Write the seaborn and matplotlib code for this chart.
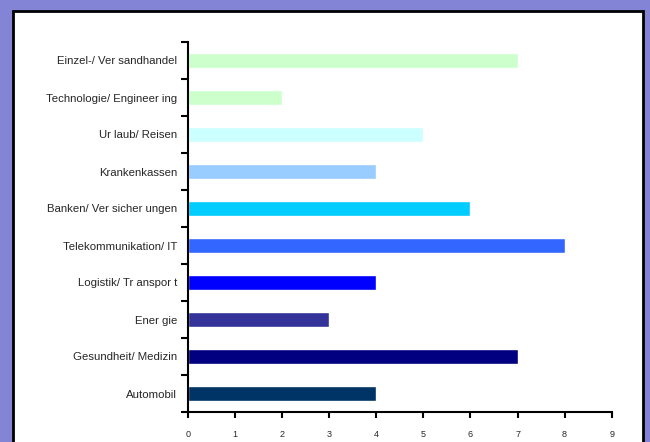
import matplotlib
matplotlib.use("Agg")
import matplotlib.pyplot as plt
import seaborn as sns
import pandas as pd
import numpy as np
from matplotlib.patches import Rectangle

categories = ["Einzel-/Versandhandel", "Technologie/Engineering", "Urlaub/Reisen",
              "Krankenkassen", "Banken/Versicherungen", "Telekommunikation/IT",
              "Logistik/Transport", "Energie", "Gesundheit/Medizin", "Automobil"]
labels = ["Einzel-/ Ver sandhandel", "Technologie/ Engineer ing", "Ur laub/ Reisen",
          "Krankenkassen", "Banken/ Ver sicher ungen", "Telekommunikation/ IT",
          "Logistik/ Tr anspor t", "Ener gie", "Gesundheit/ Medizin", "Automobil"]
values = [7, 2, 5, 4, 6, 8, 4, 3, 7, 4]
colors = ["#CCFFCC", "#CCFFCC", "#CCFFFF", "#99CCFF", "#00CCFF",
          "#3366FF", "#0000FF", "#333399", "#000080", "#003366"]
xticks = list(range(0, 10))

sns.set_theme(style="white")
plt.rcParams['font.family'] = ['Liberation Sans', 'DejaVu Sans']

fig = plt.figure(figsize=(6.5, 4.42), dpi=100)
fig.patch.set_facecolor("#8484D6")
fig.patches.append(Rectangle((13/650, -0.05), (643-13)/650, 1.05 - 11/442,
                             transform=fig.transFigure, facecolor="white",
                             edgecolor="black", linewidth=2, zorder=-10))

ax = fig.add_axes([188/650, 1 - 412/442, (611.7 - 188)/650, (412 - 42)/442])
ax.set_facecolor("none")
ax.patch.set_visible(False)

df = pd.DataFrame({"cat": categories, "val": values})
sns.barplot(data=df, x="val", y="cat", hue="cat", palette=colors, legend=False,
            width=0.4, orient="h", ax=ax, saturation=1)

ax.set_xlim(0, 9)
ax.set_ylim(9.5, -0.5)
ax.set_xticks(xticks)
ax.set_xticklabels([str(t) for t in xticks], fontsize=6.5)
ax.set_yticks(range(len(categories)))
ax.set_yticklabels(labels, fontsize=8.2)
ax.set_yticks(np.arange(-0.5, 10, 1), minor=True)
ax.tick_params(axis="y", which="major", length=0, pad=8)
ax.tick_params(axis="y", which="minor", length=5, width=1.5, direction="out", color="black", left=True)
ax.tick_params(axis="x", length=4, width=1.5, direction="out", color="black", pad=9, bottom=True)
ax.set_xlabel("")
ax.set_ylabel("")
for s in ["top", "right"]:
    ax.spines[s].set_visible(False)
for s in ["left", "bottom"]:
    ax.spines[s].set_visible(True)
    ax.spines[s].set_color("black")
    ax.spines[s].set_linewidth(1.5)
ax.grid(False)

fig.savefig("out.png", dpi=100, facecolor=fig.get_facecolor())
